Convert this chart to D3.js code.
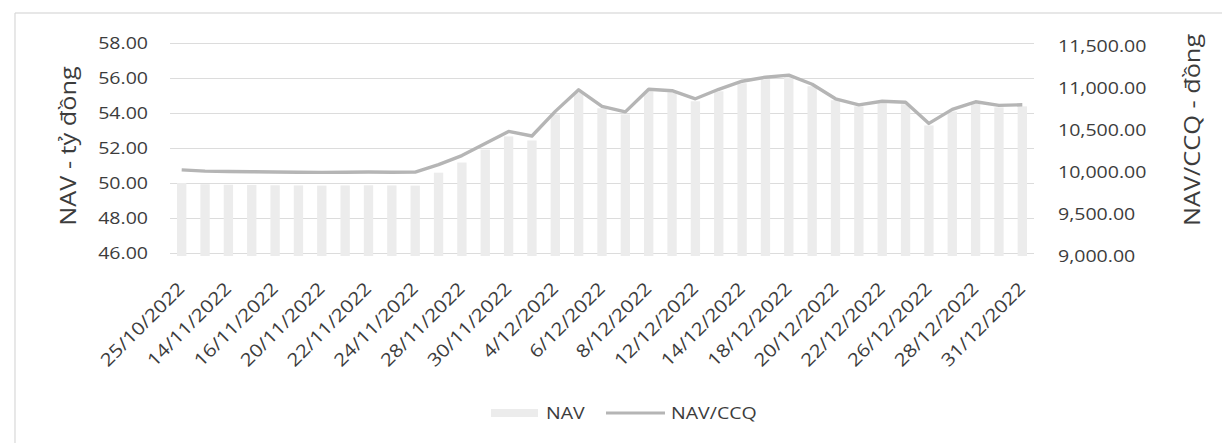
<!DOCTYPE html>
<html>
<head>
<meta charset="utf-8">
<script src="https://cdn.jsdelivr.net/npm/d3@7/dist/d3.min.js"></script>
<style>
  html, body { margin: 0; padding: 0; background: #ffffff; }
  svg { display: block; }
  text { font-family: "Open Sans", "Noto Sans", sans-serif; fill: #3c3c3c; }
</style>
</head>
<body>
<svg id="chart" width="1227" height="443"></svg>
<script>
// ---- data ----
const dates = [
  "25/10/2022","13/11/2022","14/11/2022","15/11/2022","16/11/2022","17/11/2022",
  "20/11/2022","21/11/2022","22/11/2022","23/11/2022","24/11/2022","27/11/2022",
  "28/11/2022","29/11/2022","30/11/2022","1/12/2022","4/12/2022","5/12/2022",
  "6/12/2022","7/12/2022","8/12/2022","11/12/2022","12/12/2022","13/12/2022",
  "14/12/2022","15/12/2022","18/12/2022","19/12/2022","20/12/2022","21/12/2022",
  "22/12/2022","25/12/2022","26/12/2022","27/12/2022","28/12/2022","29/12/2022",
  "31/12/2022"
];
const navValues = [
  50.00, 49.93, 49.90, 49.89, 49.87, 49.86, 49.85, 49.86, 49.87, 49.86, 49.85,
  50.59, 51.17, 51.91, 52.66, 52.43, 53.92, 55.18, 54.27, 53.92, 55.24, 55.18,
  54.67, 55.24, 55.70, 55.93, 56.05, 55.53, 54.73, 54.38, 54.55, 54.50, 53.29,
  54.09, 54.55, 54.32, 54.38
];
const navPerUnit = [
  9990, 9975, 9970, 9968, 9965, 9962, 9960, 9962, 9965, 9962, 9963,
  10052, 10160, 10304, 10447, 10393, 10686, 10943, 10746, 10680, 10949, 10932,
  10836, 10949, 11045, 11093, 11117, 11009, 10836, 10764, 10806, 10794, 10543,
  10710, 10800, 10758, 10764
];
const leftTicks = [46, 48, 50, 52, 54, 56, 58];
const rightTicks = [9000, 9500, 10000, 10500, 11000, 11500];
const seriesNames = ["NAV", "NAV/CCQ"];
const leftTitle = "NAV - tỷ đồng";
const rightTitle = "NAV/CCQ - đồng";

// ---- layout ----
const svg = d3.select("#chart");
const plot = { left: 170, right: 1034, top: 43, bottom: 253 };
const K = 1.15; // glyph widening to match the reference text widths

function stretch(sel, k) {
  sel.each(function () {
    const len = this.getComputedTextLength();
    this.setAttribute("textLength", len * k);
    this.setAttribute("lengthAdjust", "spacingAndGlyphs");
  });
}

// chart frame (top & left edges visible in reference)
svg.append("line").attr("x1", 15).attr("x2", 1222).attr("y1", 13).attr("y2", 13)
  .attr("stroke", "#cfcfcf").attr("stroke-width", 1.2);
svg.append("line").attr("x1", 15).attr("x2", 15).attr("y1", 13).attr("y2", 443)
  .attr("stroke", "#d8d8d8").attr("stroke-width", 1.2);

const x = d3.scaleBand().domain(dates).range([plot.left, plot.right]).paddingInner(0.6).paddingOuter(0.3);
const yL = d3.scaleLinear().domain([46, 58]).range([plot.bottom, plot.top]);
const yR = d3.scaleLinear().domain([9000, 11500]).range([plot.bottom, plot.top]);

// gridlines
svg.append("g")
  .attr("transform", `translate(${plot.left},0)`)
  .call(d3.axisLeft(yL).tickValues(leftTicks).tickSize(-(plot.right - plot.left)).tickFormat(""))
  .call(g => g.select(".domain").remove())
  .call(g => g.selectAll("line").attr("stroke", "#dcdcdc").attr("stroke-width", 1));

// bars (NAV)
svg.append("g").selectAll("rect")
  .data(dates.map((d, i) => ({ d, v: navValues[i] })))
  .join("rect")
  .attr("x", p => x(p.d))
  .attr("width", x.bandwidth())
  .attr("y", p => yL(p.v))
  .attr("height", p => yL(46) - yL(p.v) + 3)
  .attr("fill", "#ececec");

// bottom axis labels (every other category)
const xAxis = svg.append("g")
  .attr("transform", `translate(0,${plot.bottom})`)
  .call(d3.axisBottom(x).tickValues(dates.filter((d, i) => i % 2 === 0)).tickSize(0).tickPadding(0));
xAxis.select(".domain").remove();
xAxis.selectAll("text")
  .attr("font-size", 18)
  .attr("text-anchor", "end")
  .attr("y", 0).attr("dy", 0)
  .attr("transform", "translate(4,37) rotate(-45)");
stretch(xAxis.selectAll("text"), K);

// line (NAV/CCQ)
const line = d3.line()
  .x((d, i) => x(dates[i]) + x.bandwidth() / 2)
  .y(d => yR(d));
svg.append("path")
  .datum(navPerUnit)
  .attr("d", line)
  .attr("fill", "none")
  .attr("stroke", "#b5b5b5")
  .attr("stroke-width", 3.4)
  .attr("stroke-linejoin", "round");

// left axis labels
const axL = svg.append("g")
  .attr("transform", `translate(${plot.left},0)`)
  .call(d3.axisLeft(yL).tickValues(leftTicks).tickFormat(d3.format(".2f")).tickSize(0).tickPadding(22));
axL.select(".domain").remove();
axL.selectAll("text").attr("font-size", 17);
stretch(axL.selectAll("text"), K);

// right axis labels
const axR = svg.append("g")
  .attr("transform", `translate(${plot.right},0)`)
  .call(d3.axisRight(yR).tickValues(rightTicks).tickFormat(d3.format(",.2f")).tickSize(0).tickPadding(24));
axR.select(".domain").remove();
axR.selectAll("text").attr("font-size", 17).attr("dy", "0.5em");
stretch(axR.selectAll("text"), K);

// axis titles
const tL = svg.append("text")
  .attr("transform", "translate(76,146) rotate(-90)")
  .attr("text-anchor", "middle")
  .attr("font-size", 22)
  .text(leftTitle);
stretch(tL, K);
const tR = svg.append("text")
  .attr("transform", "translate(1200,130) rotate(-90)")
  .attr("text-anchor", "middle")
  .attr("font-size", 22)
  .text(rightTitle);
stretch(tR, K);

// legend
const lg = svg.append("g").attr("transform", "translate(0,413)");
lg.append("rect").attr("x", 491).attr("y", -4).attr("width", 47).attr("height", 8).attr("fill", "#ececec");
const l1 = lg.append("text").attr("x", 546).attr("y", 6).attr("font-size", 17).text(seriesNames[0]);
stretch(l1, K);
lg.append("line").attr("x1", 606).attr("x2", 665).attr("y1", 0).attr("y2", 0)
  .attr("stroke", "#b5b5b5").attr("stroke-width", 3);
const l2 = lg.append("text").attr("x", 671).attr("y", 6).attr("font-size", 17).text(seriesNames[1]);
stretch(l2, K);
</script>
</body>
</html>
